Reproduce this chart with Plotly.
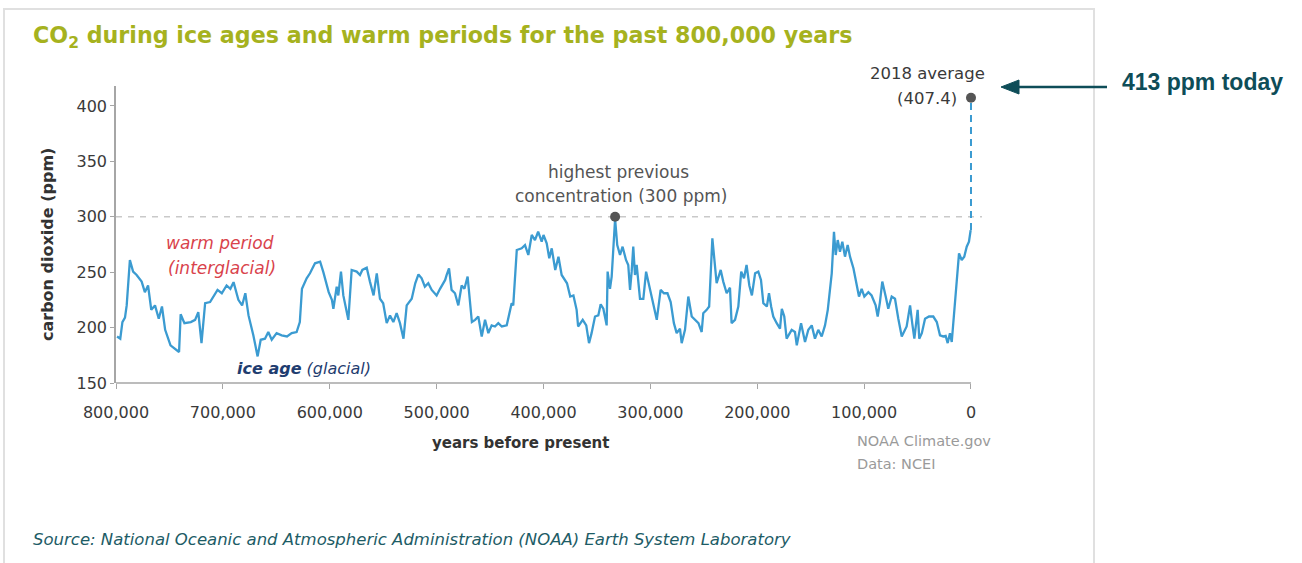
import plotly.graph_objects as go

# ---------------- data ----------------
# years before present (thousands) and CO2 (ppm)
years_k = [799, 796, 794, 791.6, 790, 787, 784, 780.7, 776, 773, 770, 767, 763.5, 760, 757, 754, 749, 745, 741,
           739.5, 736, 730, 726, 723, 720, 716.6, 712, 705, 701, 696.5, 693, 690, 685.5, 682, 679, 676, 671.5,
           667.5, 664.6, 660.6, 657.5, 654.3, 649.7, 645, 640, 635.6, 631, 628, 626, 621.6, 618.5, 613.8, 609,
           606, 601, 598, 596.6, 593.5, 592, 589.5, 587.3, 582.6, 579.5, 574.8, 571.7, 569.5, 565.4, 562.4, 559,
           556, 553, 550, 546.7, 543.6, 540.5, 537.4, 534.3, 531, 528, 523.3, 520, 517, 514, 511, 507.8, 504.6,
           500, 496.8, 492, 490.6, 488.4, 486, 482.8, 479.7, 476.6, 474, 471, 467, 464, 461, 457.8, 454.7, 451.6,
           448.5, 445.4, 442.3, 439, 434.4, 432.3, 429.8, 428.3, 425, 420.4, 417.3, 414.2, 411, 408, 405, 401.7,
           400, 397, 394.6, 392.3, 389, 386, 383, 378, 375, 372, 369, 367.6, 363.3, 360, 357.4, 355, 351.8, 348.7,
           346.5, 344, 340.9, 340, 337.8, 336.2, 333, 331, 328.4, 326, 322.8, 320.7, 319, 317.5, 316, 314.4, 312.8,
           309.7, 306.6, 304, 301, 297.8, 294, 290.4, 287.3, 284, 281, 278, 275.4, 272.3, 270.7, 267.6, 264.5,
           261.3, 258.3, 255, 252, 250.5, 247.3, 245, 242, 239.5, 238, 234.2, 231.8, 228.6, 225.5, 224, 220.8,
           217.7, 215, 212.4, 210, 207.4, 205, 202, 199, 196.5, 194.3, 191, 189, 187, 185, 181.8, 178.7, 177,
           174.7, 172.5, 167.8, 164.7, 163, 159, 155.3, 152.2, 149, 146, 142.9, 139.7, 136.6, 134, 132, 130.3,
           128.2, 126.6, 124.7, 122.6, 120.4, 117.9, 115.4, 113.2, 110, 107, 104.8, 102.3, 99.8, 96, 93, 89.2,
           87.3, 85.2, 83, 79.8, 77.4, 74.2, 71.1, 68, 64.8, 60.2, 57, 55, 53, 49.9, 48.4, 46, 43, 39.3, 35.3, 32,
           29, 26, 23.7, 21.8, 19.7, 18, 15.6, 13.4, 11.2, 8.7, 6.3, 4, 1.9, 0.3]
co2_ppm = [192, 190, 205, 209, 220, 261, 250.5, 247.5, 241.5, 232, 238, 216, 220, 208, 219, 198, 184, 181, 178,
           212, 204, 205, 207, 214, 186, 222, 223, 234, 231, 238, 235, 241, 225, 220, 231, 211, 193,
           174, 189, 190, 196, 189, 195, 193, 192, 195, 196, 205, 235, 244.5, 249, 258, 259.5,
           250, 232, 225, 217, 237, 229, 250.5, 229, 207, 252, 250.5, 247.5, 252, 254, 241.5, 229,
           249, 226, 222, 204, 211, 205, 213, 204, 190, 220, 226, 240, 248, 244.5, 237, 240, 234,
           229, 235, 243, 247.5, 253.5, 234, 231, 220, 238, 235, 246, 205, 207, 210, 192, 207, 195,
           202, 201, 204, 201, 202, 211, 222, 220, 270, 271.5, 274.5, 265.5, 283.6, 279, 286.5, 277.5,
           283.6, 276, 262.5, 271.5, 252, 264, 247.5, 240, 228, 229, 216, 201, 207, 202, 186, 195, 210, 211,
           221, 217, 202, 250.5, 235, 246, 298, 274.5, 265.5, 273, 261, 256.5, 234, 250.5, 273, 247.5, 256.5,
           226, 226, 250.5, 237, 225, 207, 234, 231, 231, 223, 204, 195, 199, 186, 198, 228,
           210, 207, 204, 196, 213, 216, 219, 280.6, 252, 240, 252, 241.5, 231, 236, 204, 207,
           219, 250.5, 244.5, 256.5, 238, 229, 249, 250.5, 243, 222, 219, 231, 219, 210, 204, 199, 217,
           210, 190, 198, 196, 184, 204, 187, 198, 202, 190, 198, 192, 202, 216, 231, 249,
           286.5, 265.5, 279, 268.5, 277.5, 264, 274.5, 264, 253.5, 238, 228, 235, 228, 232, 229, 220,
           210, 223, 241.5, 228, 217, 228, 226, 208, 192, 201, 220, 204, 190, 216, 190, 195, 208, 210, 210, 205,
           193, 192, 192.5, 186, 195, 187, 216, 237, 267, 261, 264, 273, 277.5, 288]

modern_years_k = [0, 0]
modern_ppm = [288, 407.4]

highlight_years_k = [333, 0]
highlight_ppm = [300, 407.4]

previous_max_ppm = 300

x_tickvals = [800, 700, 600, 500, 400, 300, 200, 100, 0]
x_ticktext = ["800,000", "700,000", "600,000", "500,000", "400,000", "300,000", "200,000", "100,000", "0"]
y_tickvals = [150, 200, 250, 300, 350, 400]

# ---------------- layout helpers ----------------
L, R, T, B = 116, 982, 86, 383


def xp(px):
    return (px - L) / (R - L)


def yp(py):
    return (B - py) / (B - T)


CHART_FONT = "DejaVu Sans"
LINE_BLUE = "#3b9bd1"
TEAL = "#0e4d58"

fig = go.Figure()

fig.add_trace(go.Scatter(x=years_k, y=co2_ppm, mode="lines",
                         line=dict(color=LINE_BLUE, width=2.3), hoverinfo="skip", showlegend=False))
fig.add_trace(go.Scatter(x=modern_years_k, y=modern_ppm, mode="lines",
                         line=dict(color=LINE_BLUE, width=2, dash="7px,5px"), hoverinfo="skip",
                         showlegend=False))
fig.add_trace(go.Scatter(x=highlight_years_k, y=highlight_ppm, mode="markers",
                         marker=dict(color="#555555", size=10), cliponaxis=False,
                         hoverinfo="skip", showlegend=False))

shapes = [
    # frame
    dict(type="path", xref="paper", yref="paper",
         path=f"M {xp(4)} {yp(620)} L {xp(4)} {yp(9)} L {xp(1094)} {yp(9)} L {xp(1094)} {yp(620)}",
         line=dict(color="#e0e0e0", width=2), layer="below"),
    # previous max dashed line
    dict(type="line", xref="paper", yref="y", x0=0, x1=1, y0=previous_max_ppm, y1=previous_max_ppm,
         line=dict(color="#c9c9c9", width=1.3, dash="6px,6px"), layer="below"),
    # x axis line (ends at 0)
    dict(type="line", xref="paper", yref="paper", x0=0, x1=xp(971), y0=0, y1=0,
         line=dict(color="#a6a6a6", width=1.5)),
    # arrow to the 2018 value
    dict(type="line", xref="paper", yref="paper", x0=xp(1107), x1=xp(1014), y0=yp(87), y1=yp(87),
         line=dict(color=TEAL, width=2.5)),
    dict(type="path", xref="paper", yref="paper",
         path=f"M {xp(1001)} {yp(87)} L {xp(1019)} {yp(80)} L {xp(1019)} {yp(94)} Z",
         fillcolor=TEAL, line=dict(color=TEAL, width=1)),
]

ann = []


def add_text(text, px, py, size, color, xanchor="center", family=CHART_FONT, angle=0):
    ann.append(dict(text=text, xref="paper", yref="paper", x=xp(px), y=yp(py), xanchor=xanchor,
                    yanchor="middle", showarrow=False, textangle=angle,
                    font=dict(family=family, size=size, color=color)))


add_text("<b>CO<sub>2</sub> during ice ages and warm periods for the past 800,000 years</b>",
         31, 37, 22.2, "#a6b21e", xanchor="left")
add_text("<i>Source: National Oceanic and Atmospheric Administration (NOAA) Earth System Laboratory</i>",
         31, 539, 16.5, "#1d5c66", xanchor="left")
add_text("<b>413 ppm today</b>", 1120, 82, 23, TEAL, xanchor="left", family="Liberation Sans, Arial")

add_text("<b>carbon dioxide (ppm)</b>", 47, 245, 16, "#333333", angle=-90)
add_text("<b>years before present</b>", 520, 443, 15, "#333333")
add_text("NOAA Climate.gov", 855, 441, 14.5, "#9a9a9a", xanchor="left")
add_text("Data: NCEI", 855, 464, 14.5, "#9a9a9a", xanchor="left")

add_text("<i>warm period</i>", 220, 243, 17, "#d9434c")
add_text("<i>(interglacial)</i>", 222, 268, 17, "#d9434c")
add_text("<b><i>ice age</i></b><i> (glacial)</i>", 304, 368, 16, "#1f3d70")

add_text("highest previous", 618, 172, 17, "#555555")
add_text("concentration (300 ppm)", 621, 196, 17, "#555555")
add_text("2018 average", 987, 73, 16.5, "#3a3a3a", xanchor="right")
add_text("(407.4)", 959, 98, 16.5, "#3a3a3a", xanchor="right")

fig.update_layout(
    width=1302, height=563, autosize=False,
    margin=dict(l=L, r=1302 - R, t=T, b=563 - B, pad=0),
    paper_bgcolor="white", plot_bgcolor="white",
    showlegend=False,
    shapes=shapes, annotations=ann,
    xaxis=dict(range=[800, -10.3], tickvals=x_tickvals, ticktext=x_ticktext,
               showgrid=False, zeroline=False, showline=False,
               ticks="outside", ticklen=5, tickcolor="#a6a6a6", tickwidth=1.3,
               ticklabelstandoff=10,
               tickfont=dict(family=CHART_FONT, size=16, color="#3a3a3a")),
    yaxis=dict(range=[150, 418], tickvals=y_tickvals,
               showgrid=False, zeroline=False, showline=True, linecolor="#a6a6a6", linewidth=1.5,
               ticks="outside", ticklen=4, tickcolor="#a6a6a6", tickwidth=1.3,
               tickfont=dict(family=CHART_FONT, size=16, color="#3a3a3a")),
)

fig.write_html("out.html", config={"displayModeBar": False},
               post_script="document.body.style.margin='0px';")
